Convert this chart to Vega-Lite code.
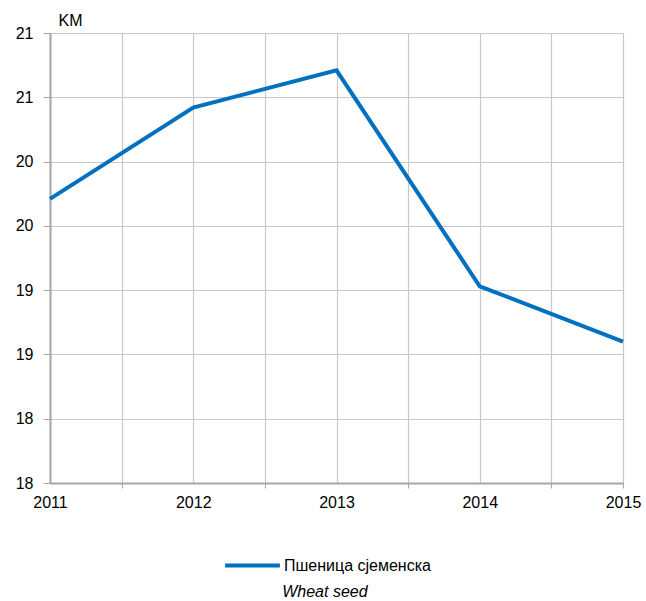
{
  "$schema": "https://vega.github.io/schema/vega-lite/v6.json",
  "width": 573,
  "height": 450,
  "autosize": "none",
  "padding": {"left": 50, "top": 33, "right": 23, "bottom": 118},
  "background": "white",
  "config": {
    "font": "Liberation Sans",
    "view": {"stroke": null}
  },
  "title": {
    "text": " ",
    "subtitle": "Wheat seed",
    "orient": "bottom",
    "anchor": "start",
    "subtitleFont": "Liberation Sans",
    "subtitleFontStyle": "italic",
    "subtitleFontSize": 16,
    "subtitleColor": "black",
    "fontSize": 2,
    "dx": 267,
    "offset": 5
  },
  "data": {
    "values": [
      {"year": 2011, "value": 20.21, "series": "Пшеница сјеменска"},
      {"year": 2012, "value": 20.92, "series": "Пшеница сјеменска"},
      {"year": 2013, "value": 21.21, "series": "Пшеница сјеменска"},
      {"year": 2014, "value": 19.53, "series": "Пшеница сјеменска"},
      {"year": 2015, "value": 19.1, "series": "Пшеница сјеменска"}
    ]
  },
  "mark": {"type": "line", "strokeWidth": 4, "strokeJoin": "miter"},
  "encoding": {
    "x": {
      "field": "year",
      "type": "quantitative",
      "scale": {"domain": [2011, 2015], "nice": false, "zero": false},
      "axis": {
        "title": null,
        "values": [2011, 2011.5, 2012, 2012.5, 2013, 2013.5, 2014, 2014.5, 2015],
        "labelExpr": "datum.value % 1 === 0 ? datum.value : ''",
        "labelFontSize": 16,
        "labelColor": "black",
        "labelPadding": 6,
        "labelFlush": false,
        "labelOverlap": false,
        "tickSize": 5,
        "tickColor": {"condition": {"test": "datum.value % 1 !== 0 || datum.value === 2015", "value": "#a6a6a6"}, "value": "transparent"},
        "domainColor": "#a6a6a6",
        "domainWidth": 2,
        "gridColor": "#c8c8c8",
        "gridWidth": 1.2
      }
    },
    "y": {
      "field": "value",
      "type": "quantitative",
      "scale": {"domain": [18, 21.5], "nice": false, "zero": false},
      "axis": {
        "title": "KM",
        "titleAngle": 0,
        "titleAlign": "left",
        "titleBaseline": "bottom",
        "titleX": 8,
        "titleY": -5,
        "titleFont": "Liberation Sans",
        "titleFontSize": 16,
        "titleFontWeight": "normal",
        "titleColor": "black",
        "values": [18, 18.5, 19, 19.5, 20, 20.5, 21, 21.5],
        "labelExpr": "floor(datum.value)",
        "labelFontSize": 16,
        "labelColor": "black",
        "labelPadding": 10,
        "labelFlush": false,
        "tickSize": 7,
        "tickColor": "#a6a6a6",
        "domainColor": "#a6a6a6",
        "domainWidth": 2,
        "gridColor": "#c8c8c8",
        "gridWidth": 1.2
      }
    },
    "color": {
      "field": "series",
      "type": "nominal",
      "scale": {"range": ["#0070c0"]},
      "legend": {
        "title": null,
        "orient": "none",
        "legendX": 173,
        "legendY": 503,
        "symbolType": "stroke",
        "symbolStrokeWidth": 4,
        "symbolSize": 3000,
        "labelFont": "Liberation Sans",
        "labelFontSize": 16,
        "labelColor": "black",
        "labelOffset": 2
      }
    }
  }
}
